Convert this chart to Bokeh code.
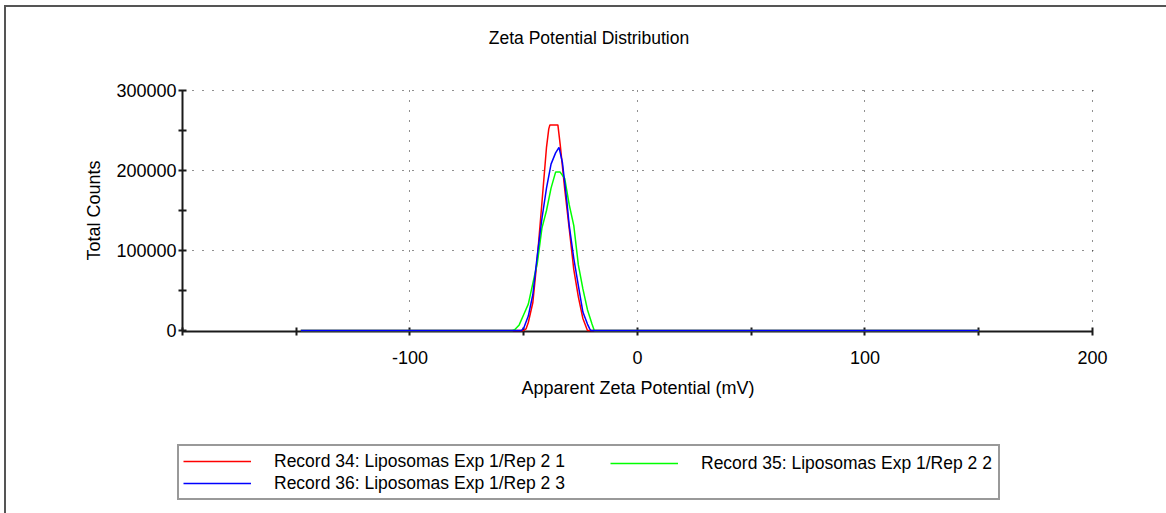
from bokeh.plotting import figure
from bokeh.layouts import column
from bokeh.models import (Range1d, FixedTicker, Legend, LegendItem, Label,
                          NumeralTickFormatter)
from bokeh.embed import file_html
from bokeh.resources import INLINE

# ---- data ----
x_red = [-148, -50, -49, -48, -46, -44, -42, -40, -39, -38.5, -35, -34, -32, -30, -28, -26, -24, -22, 150]
y_red = [0, 0, 2000, 10000, 35000, 92000, 160000, 229000, 252000, 257000, 257000, 233000, 177000, 127000, 76000, 42000, 15000, 0, 0]

x_green = [-148, -55, -54, -52, -50, -48, -46, -44, -42, -40, -38, -36, -34, -32, -30, -28, -26, -24, -22, -20, -19, 150]
y_green = [0, 0, 1000, 7000, 20000, 33000, 59000, 85000, 128000, 150000, 178000, 198000, 198000, 190000, 157000, 131000, 82000, 52000, 26000, 8000, 0, 0]

x_blue = [-148, -51, -50, -48, -46, -44, -42, -40, -38, -36, -34.5, -33, -31, -30, -28, -26, -24, -22, -21, -20.5, 150]
y_blue = [0, 0, 3000, 18000, 45000, 95000, 140000, 178000, 208000, 222000, 229000, 210000, 160000, 131000, 90000, 56000, 23000, 8000, 2000, 0, 0]

labels = ["Record 34: Liposomas Exp 1/Rep 2 1",
          "Record 35: Liposomas Exp 1/Rep 2 2",
          "Record 36: Liposomas Exp 1/Rep 2 3"]
colors = ["#FF0000", "#00FF00", "#0000FF"]

x_ticks = [-200, -100, 0, 100, 200]
x_tick_text = {-200: "", -100: "-100", 0: "0", 100: "100", 200: "200"}
x_minor = [-150, -50, 50, 150]
y_ticks = [0, 100000, 200000, 300000]
y_minor = [50000, 150000, 250000]

FONT = "Liberation Sans"
FS = "18px"
FS_LEG = "17.5px"
W = 1166
FRAME_L, FRAME_R = 182, 1093
NAN = float("nan")

can_unalign = "frame_align" in figure.properties()
# pixel span that the decoration strips' frames cover
strip_l, strip_r = (0, W) if can_unalign else (FRAME_L, FRAME_R)


def strip(height, yr):
    f = figure(width=W, height=height, x_range=Range1d(strip_l, strip_r), y_range=yr,
               output_backend="svg", toolbar_location=None,
               x_axis_type=None, y_axis_type=None, min_border=0)
    if can_unalign:
        f.frame_align = False
    f.outline_line_color = None
    f.background_fill_color = None
    f.border_fill_color = None
    f.grid.visible = False
    return f


# ---------- title strip ----------
top = strip(60, Range1d(60, 0))
top.add_layout(Label(x=588.5, y=37, text="Zeta Potential Distribution",
                     text_align="center", text_baseline="middle",
                     text_font=FONT, text_font_size=FS_LEG, text_color="black"))

# ---------- main plot ----------
p = figure(width=W, height=350,
           x_range=Range1d(-200, 200.44), y_range=Range1d(-1250, 301250),
           output_backend="svg", toolbar_location=None,
           min_border_left=FRAME_L, min_border_right=W - FRAME_R,
           min_border_top=29, min_border_bottom=79)
p.outline_line_color = None
p.background_fill_color = "white"
p.border_fill_color = None

p.line(x_red, y_red, line_color=colors[0], line_width=1.5, level="overlay")
p.line(x_green, y_green, line_color=colors[1], line_width=1.5, level="overlay")
p.line(x_blue, y_blue, line_color=colors[2], line_width=1.5, level="overlay")

for ax in (p.xaxis[0], p.yaxis[0]):
    ax.axis_line_color = "#1a1a1a"
    ax.axis_line_width = 2
    ax.major_tick_line_color = "#1a1a1a"
    ax.minor_tick_line_color = "#1a1a1a"
    ax.major_tick_line_width = 2
    ax.minor_tick_line_width = 2
    ax.major_tick_in = 4
    ax.major_tick_out = 4
    ax.minor_tick_in = 4
    ax.minor_tick_out = 4
    ax.major_label_text_font = FONT
    ax.major_label_text_font_size = FS
    ax.major_label_text_color = "black"
    ax.axis_label_text_font = FONT
    ax.axis_label_text_font_size = FS
    ax.axis_label_text_font_style = "normal"
    ax.axis_label_text_color = "black"

p.xaxis.ticker = FixedTicker(ticks=x_ticks, minor_ticks=x_minor)
p.xaxis.major_label_overrides = x_tick_text
p.xaxis.axis_label = "Apparent Zeta Potential (mV)"
p.xaxis.major_label_standoff = 15
p.xaxis.axis_label_standoff = 11
p.xaxis.bounds = (-200, 200)

p.yaxis.ticker = FixedTicker(ticks=y_ticks, minor_ticks=y_minor)
p.yaxis.formatter = NumeralTickFormatter(format="0")
p.yaxis.axis_label = "Total Counts"
p.yaxis.major_label_standoff = 2
p.yaxis.axis_label_standoff = 9
p.yaxis.bounds = (0, 300000)

for g in (p.xgrid[0], p.ygrid[0]):
    g.grid_line_color = "#202020"
    g.grid_line_dash = "1 9"
    g.grid_line_width = 1
p.xgrid.ticker = FixedTicker(ticks=x_ticks)
p.ygrid.ticker = FixedTicker(ticks=[100000, 200000, 300000])

# ---------- legend strip ----------
bot = strip(103, Range1d(0, 1))
lr = [bot.line([NAN], [NAN], line_color=c, line_width=1.5) for c in colors]

if can_unalign:
    box_l, pad, gw = 177, 4, 68
else:
    box_l, pad, gw = 183, 4, 62
common = dict(padding=pad, spacing=0, glyph_width=gw, glyph_height=22, label_standoff=23,
              margin=0, label_text_font=FONT, label_text_font_size=FS_LEG,
              label_text_color="black")
leg1 = Legend(items=[LegendItem(label=labels[0], renderers=[lr[0]]),
                     LegendItem(label=labels[2], renderers=[lr[2]])],
              location=(box_l - strip_l, 13), orientation="vertical",
              label_width=996 - box_l - 2 * pad - gw - 23,
              border_line_color="#333333", border_line_width=2,
              background_fill_color="white", background_fill_alpha=1, **common)
leg2 = Legend(items=[LegendItem(label=labels[1], renderers=[lr[1]])],
              location=(606 - strip_l, 35), orientation="vertical",
              border_line_alpha=0, background_fill_alpha=0,
              **dict(common, glyph_width=68))
bot.add_layout(leg1)
bot.add_layout(leg2)

layout = column(top, p, bot, spacing=0)
layout.styles = {"box-shadow": "inset 4px 5px 0 0 #ffffff, inset 6px 7px 0 0 #555555"}

open("out.html", "w").write(file_html(layout, INLINE))
